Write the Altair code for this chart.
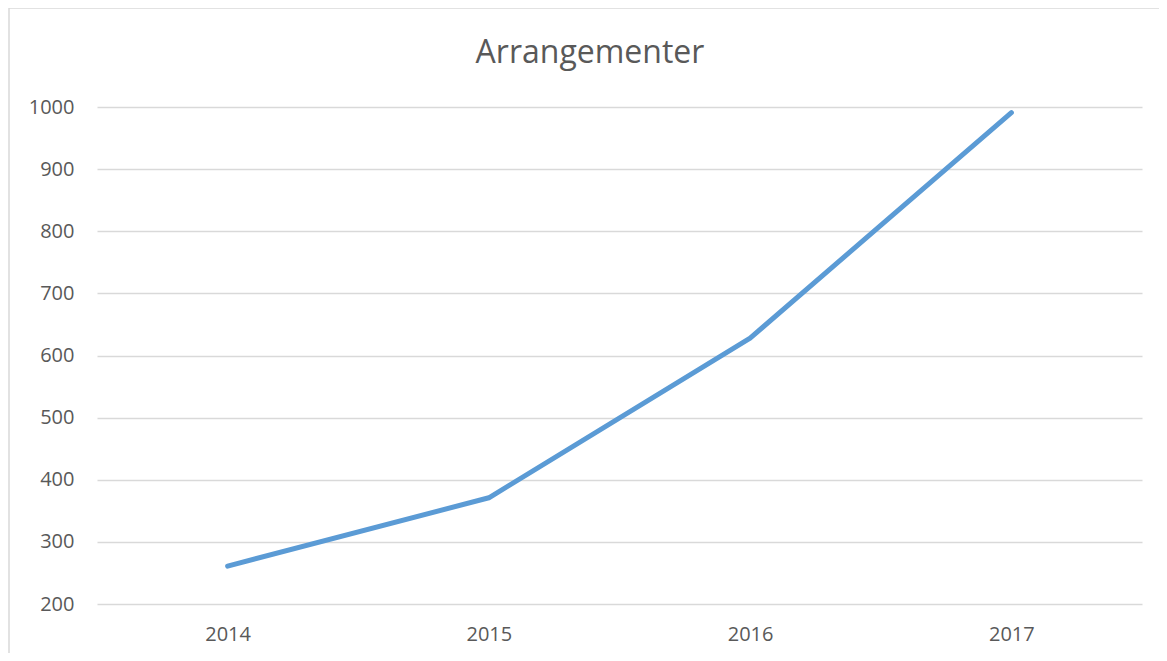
import altair as alt
import pandas as pd

years = ["2014", "2015", "2016", "2017"]
values = [261, 371, 628, 991]
y_ticks = [200, 300, 400, 500, 600, 700, 800, 900, 1000]
title_text = "Arrangementer"

df = pd.DataFrame({"year": years, "value": values})

GRAY = "#595959"
GRID = "#d9d9d9"
FONT = "Open Sans"

line = alt.Chart(df).mark_line(
    color="#5b9bd5", strokeWidth=5, strokeCap="round", strokeJoin="round"
).encode(
    x=alt.X("year:O", sort=years,
            scale=alt.Scale(paddingInner=0, paddingOuter=0),
            axis=alt.Axis(title=None, labelAngle=0, ticks=False, domain=False,
                          grid=False, labelFontSize=20, labelColor=GRAY,
                          labelFont=FONT, labelPadding=20)),
    y=alt.Y("value:Q",
            scale=alt.Scale(domain=[200, 1000], nice=False, zero=False),
            axis=alt.Axis(title=None, values=y_ticks, format="d", ticks=False,
                          domain=False, grid=True, gridColor=GRID, gridWidth=1.5,
                          labelFontSize=20, labelColor=GRAY, labelFont=FONT,
                          labelPadding=23)),
)

frame = alt.Chart(pd.DataFrame({"k": [0]})).mark_rect(
    fill=None, stroke=GRID, strokeWidth=1.5
).encode(
    x=alt.value(-88), x2=alt.value(1200),
    y=alt.value(-99), y2=alt.value(700),
)

title = alt.Chart(pd.DataFrame({"t": [title_text]})).mark_text(
    font=FONT, fontSize=32, color=GRAY, align="center", baseline="alphabetic"
).encode(
    text="t:N", x=alt.value(493), y=alt.value(-44),
)

chart = alt.layer(frame, line, title).properties(
    width=1045, height=497,
    padding={"left": 89, "top": 99, "right": 17, "bottom": 49},
    autosize=alt.AutoSizeParams(type="none"),
).configure_view(stroke=None)

chart.save("out.html", embed_options={"renderer": "svg", "actions": False})
